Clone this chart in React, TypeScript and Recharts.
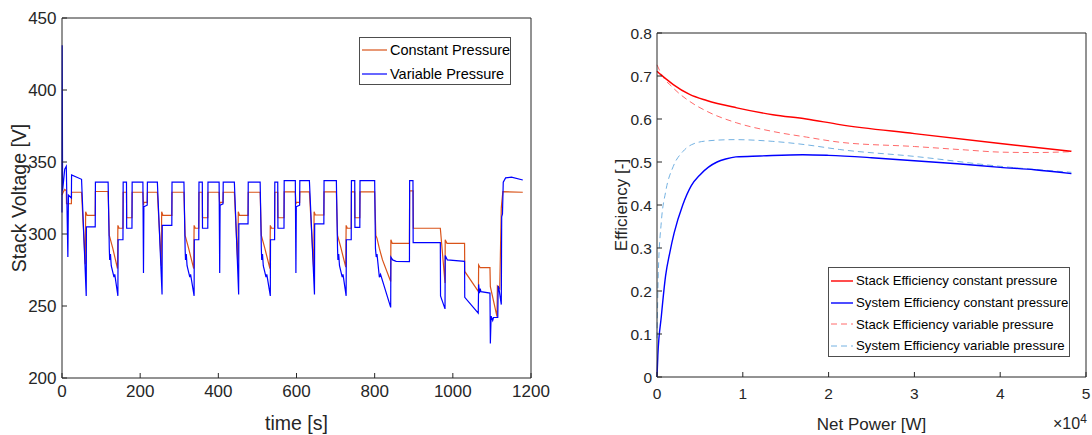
import { LineChart, Line, XAxis, YAxis, Legend } from "recharts";

const FONT = '"Liberation Sans", Arial, Helvetica, sans-serif';
const AXIS = "#262626";

// ---- left panel: stack voltage vs time ----
const cpTime = [0, 3, 7, 11, 11.5, 24, 24.5, 50, 59.5, 60.5, 64, 85, 85.5, 118, 121, 125, 130, 142, 143, 146, 156, 156.5, 165, 165.5, 179, 179.5, 207, 208.5, 209.5, 218, 218.5, 244, 254, 255, 258, 281, 281.5, 312, 315, 319, 324, 337, 338, 341, 350, 350.5, 359, 359.5, 373, 373.5, 402, 403.5, 404.5, 412, 412.5, 441, 450, 451, 454, 476, 476.5, 507, 510, 514, 519, 532, 533, 536, 544, 544.5, 552, 552.5, 568, 568.5, 597, 598.5, 599.5, 608, 608.5, 633, 644, 645, 648, 670, 670.5, 702, 705, 709, 714, 726, 727, 730, 740, 740.5, 749, 749.5, 762, 762.5, 800, 803, 806, 812, 820, 841, 841.5, 845, 889, 889.5, 898.5, 899, 968, 980, 980.5, 985, 1030, 1030.5, 1065.5, 1066, 1070, 1095, 1096, 1113, 1114, 1120, 1124, 1125, 1128, 1179];
const cpVolt = [327, 329, 331, 330, 321, 321, 329, 329, 279, 315.5, 313, 313, 329.5, 329.5, 299, 295, 290, 276, 306, 304, 304, 329, 329, 311.3, 311.3, 329, 329, 320, 322, 322, 329, 329, 278, 315.5, 313, 313, 329, 329, 299, 295, 290, 276, 306, 304, 304, 329, 329, 311.3, 311.3, 329, 329, 320, 322, 322, 329, 329, 278, 315.5, 313, 313, 329, 329, 299, 295, 290, 276, 306, 304, 304, 329, 329, 311.3, 311.3, 329.2, 329.2, 320.8, 322, 322, 329.2, 329.2, 275.5, 315.5, 313.2, 313.2, 329.2, 329.2, 299, 295, 290, 277, 306, 304, 304, 329.2, 329.2, 311.3, 311.3, 329.2, 329.2, 299, 297, 290, 282, 267, 296, 293.5, 293.5, 329.9, 329.9, 304, 304, 266, 296, 293.5, 293.5, 274, 260, 278.5, 276.6, 276.6, 263.4, 242.6, 263.9, 262, 318, 321.3, 329.4, 329];

const vpTime = [0, 0.5, 1.5, 7, 11, 15, 16.5, 24, 24.5, 50, 62, 62.5, 85, 85.5, 118, 121, 122, 124, 126, 133, 135, 143, 143.5, 156, 156.5, 165, 165.5, 179, 179.5, 207, 208.5, 209.5, 218, 218.5, 244, 256, 256.5, 281, 281.5, 312, 315, 316, 318, 320, 327, 329, 338, 338.5, 350, 350.5, 359, 359.5, 373, 373.5, 402, 403.5, 404.5, 412, 412.5, 441, 452, 452.5, 476, 476.5, 507, 510, 511, 513, 515, 522, 524, 533, 533.5, 544, 544.5, 552, 552.5, 568, 568.5, 597, 598.5, 599.5, 608, 608.5, 633, 646, 646.5, 670, 670.5, 702, 705, 706, 708, 710, 717, 719, 727, 727.5, 740, 740.5, 749, 749.5, 762, 762.5, 800, 802, 804, 806, 812, 815, 841, 841.5, 846, 855, 889, 889.5, 898, 898.5, 968, 968.5, 980, 980.5, 986, 1030, 1030.5, 1065, 1066, 1068, 1070, 1072, 1095, 1096, 1098, 1102, 1104, 1115, 1116, 1118, 1124, 1125, 1127, 1129, 1135, 1150, 1179];
const vpVolt = [315, 431, 330, 345, 347, 284, 327, 325, 341, 338, 257, 305, 305, 336, 336, 290, 282, 286, 278, 270, 272, 257, 296, 296, 336, 336, 304, 304, 336, 336, 273, 319, 320, 336, 336, 258, 306, 306, 336, 336, 290, 282, 286, 278, 270, 272, 257, 296, 296, 336, 336, 304, 304, 336, 336, 273, 320, 321, 336, 336, 258, 307, 307, 336, 336, 290, 282, 286, 278, 270, 272, 257, 296, 296, 336, 336, 304, 304, 337, 337, 273, 319, 320, 337, 337, 258, 307, 307, 337, 337, 290, 282, 286, 278, 270, 272, 257, 296, 296, 337, 337, 304.6, 304.6, 337, 337, 290, 284, 286, 270, 272, 249, 284, 282, 281, 280.8, 337, 337, 294, 294, 257, 248, 285, 282, 281, 256, 245, 265, 259, 262, 260, 259, 224, 243, 240, 242, 242, 264, 262, 251, 312, 314, 336, 339, 339.5, 337.5];

const timeTicks = [0, 200, 400, 600, 800, 1000, 1200];
const voltTicks = [200, 250, 300, 350, 400, 450];

// ---- right panel: efficiency vs net power ----
const stackCpPower = [0, 500, 1000, 1900, 3800, 5800, 9300, 13500, 17400, 21300, 30000, 40000, 48300];
const stackCpEff = [0.711, 0.702, 0.694, 0.68, 0.657, 0.643, 0.626, 0.61, 0.6, 0.587, 0.566, 0.543, 0.525];

const sysCpPower = [0, 100, 500, 1000, 1500, 2000, 3000, 4000, 5000, 6000, 7000, 8000, 9200, 12000, 17000, 20000, 25000, 30000, 35000, 40000, 44000, 48300];
const sysCpEff = [0, 0.05, 0.14, 0.235, 0.29, 0.335, 0.4, 0.445, 0.47, 0.488, 0.5, 0.507, 0.512, 0.514, 0.517, 0.5155, 0.51, 0.503, 0.496, 0.4876, 0.482, 0.473];

const stackVpPower = [0, 500, 1900, 3800, 5800, 9300, 13500, 17400, 21300, 30000, 36000, 40000, 44000, 48300];
const stackVpEff = [0.726, 0.705, 0.672, 0.641, 0.618, 0.591, 0.571, 0.558, 0.546, 0.536, 0.528, 0.523, 0.522, 0.524];

const sysVpPower = [0, 150, 500, 1000, 1900, 3000, 4000, 5800, 9000, 13500, 17400, 21300, 30000, 40000, 48300];
const sysVpEff = [0.09, 0.24, 0.36, 0.43, 0.49, 0.524, 0.54, 0.549, 0.552, 0.548, 0.54, 0.529, 0.513, 0.49, 0.476];

const powerTicks = [0, 10000, 20000, 30000, 40000, 50000];
const effTicks = [0, 0.1, 0.2, 0.3, 0.4, 0.5, 0.6, 0.7, 0.8];

const toPoints = (xs: number[], ys: number[]) => xs.map((x, i) => ({ x, y: ys[i] }));

type LegendItem = { label: string; color: string; dash?: string; width: number };

function BoxLegend({ items, fontSize, rowH, padTop, sample, width, height }: any) {
  return (
    <div
      style={{
        width,
        height,
        boxSizing: "border-box",
        border: "1px solid #4d4d4d",
        background: "#fff",
        paddingTop: padTop,
        fontFamily: FONT,
        fontSize,
        color: "#000",
      }}
    >
      {items.map((it: LegendItem) => (
        <div key={it.label} style={{ height: rowH, display: "flex", alignItems: "center", whiteSpace: "nowrap" }}>
          <svg width={sample + 4} height={4} style={{ flex: "none" }}>
            <line x1={2} x2={sample + 2} y1={2} y2={2} stroke={it.color} strokeWidth={it.width} strokeDasharray={it.dash} />
          </svg>
          <span style={{ marginLeft: 1 }}>{it.label}</span>
        </div>
      ))}
    </div>
  );
}

const leftLegend: LegendItem[] = [
  { label: "Constant Pressure", color: "#D95319", width: 1.2 },
  { label: "Variable Pressure", color: "#0000FF", width: 1.2 },
];

const rightLegend: LegendItem[] = [
  { label: "Stack Efficiency constant pressure", color: "#FF0000", width: 1.4 },
  { label: "System Efficiency constant pressure", color: "#0000FF", width: 1.4 },
  { label: "Stack Efficiency variable pressure", color: "#FF6A6A", width: 1, dash: "6 4" },
  { label: "System Efficiency variable pressure", color: "#74B2E2", width: 1, dash: "6 4" },
];

export default function App() {
  const cpData = toPoints(cpTime, cpVolt);
  const vpData = toPoints(vpTime, vpVolt);
  const tickStyle = (size: number) => ({ fill: AXIS, fontSize: size, fontFamily: FONT });

  return (
    <div style={{ position: "absolute", left: 0, top: 0, width: 1092, height: 435, background: "#fff" }}>
      <div style={{ position: "absolute", left: 0, top: 0 }}>
        <LineChart width={575} height={435} margin={{ top: 17, right: 43, left: 0, bottom: 0 }}>
          <XAxis
            dataKey="x"
            type="number"
            domain={[0, 1200]}
            ticks={timeTicks}
            height={57}
            stroke={AXIS}
            tickSize={-5}
            tickMargin={12}
            tick={tickStyle(17)}
            label={{ value: "time [s]", position: "insideBottom", offset: 5, fill: AXIS, fontSize: 19.5, fontFamily: FONT }}
          />
          <XAxis xAxisId="top" orientation="top" type="number" domain={[0, 1200]} ticks={timeTicks} height={1} stroke={AXIS} tickSize={-5} tickFormatter={() => ""} />
          <YAxis
            type="number"
            domain={[200, 450]}
            ticks={voltTicks}
            width={62}
            stroke={AXIS}
            tickSize={-5}
            tickMargin={10.5}
            tick={tickStyle(17)}
            label={{ value: "Stack Voltage [V]", angle: -90, position: "insideLeft", offset: 19, fill: AXIS, fontSize: 19.5, fontFamily: FONT, style: { textAnchor: "middle" } }}
          />
          <YAxis yAxisId="right" orientation="right" type="number" domain={[200, 450]} ticks={voltTicks} width={1} stroke={AXIS} tickSize={-5} tickFormatter={() => ""} />
          <Line data={cpData} dataKey="y" type="linear" dot={false} stroke="#D95319" strokeWidth={1.2} isAnimationActive={false} />
          <Line data={vpData} dataKey="y" type="linear" dot={false} stroke="#0000FF" strokeWidth={1.2} isAnimationActive={false} />
          <Legend
            verticalAlign="middle"
            align="center"
            layout="horizontal"
            wrapperStyle={{ left: 359, top: 37, width: 152, height: 48 }}
            content={() => <BoxLegend items={leftLegend} fontSize={14.5} rowH={24} padTop={0} sample={25} width={152} height={48} />}
          />
        </LineChart>
      </div>

      <div style={{ position: "absolute", left: 590, top: 0 }}>
        <LineChart width={502} height={435} margin={{ top: 32, right: 5, left: 0, bottom: 0 }}>
          <XAxis
            dataKey="x"
            type="number"
            domain={[0, 50000]}
            ticks={powerTicks}
            height={58}
            stroke={AXIS}
            tickSize={-5}
            tickMargin={16}
            tick={tickStyle(15.5)}
            tickFormatter={(v: number) => String(v / 10000)}
            label={{ value: "Net Power [W]", position: "insideBottom", offset: 5, fill: AXIS, fontSize: 17, fontFamily: FONT }}
          />
          <XAxis xAxisId="top" orientation="top" type="number" domain={[0, 50000]} ticks={powerTicks} height={1} stroke={AXIS} tickSize={-5} tickFormatter={() => ""} />
          <YAxis
            type="number"
            domain={[0, 0.8]}
            ticks={effTicks}
            width={67}
            stroke={AXIS}
            tickSize={-5}
            tickMargin={10}
            tick={tickStyle(15.5)}
            tickFormatter={(v: number) => (v === 0 ? "0" : v.toFixed(1))}
            label={{ value: "Efficiency [-]", angle: -90, position: "insideLeft", offset: 31, fill: AXIS, fontSize: 17, fontFamily: FONT, style: { textAnchor: "middle" } }}
          />
          <YAxis yAxisId="right" orientation="right" type="number" domain={[0, 0.8]} ticks={effTicks} width={1} stroke={AXIS} tickSize={-5} tickFormatter={() => ""} />
          <Line data={toPoints(sysVpPower, sysVpEff)} dataKey="y" type="monotone" dot={false} stroke="#74B2E2" strokeWidth={1} strokeDasharray="6 4" isAnimationActive={false} />
          <Line data={toPoints(stackVpPower, stackVpEff)} dataKey="y" type="monotone" dot={false} stroke="#FF6A6A" strokeWidth={1} strokeDasharray="6 4" isAnimationActive={false} />
          <Line data={toPoints(sysCpPower, sysCpEff)} dataKey="y" type="monotone" dot={false} stroke="#0000FF" strokeWidth={1.4} isAnimationActive={false} />
          <Line data={toPoints(stackCpPower, stackCpEff)} dataKey="y" type="monotone" dot={false} stroke="#FF0000" strokeWidth={1.4} isAnimationActive={false} />
          <Legend
            verticalAlign="middle"
            align="center"
            layout="horizontal"
            wrapperStyle={{ left: 238, top: 267, width: 242, height: 90 }}
            content={() => <BoxLegend items={rightLegend} fontSize={13.2} rowH={21.7} padTop={2} sample={22} width={242} height={90} />}
          />
        </LineChart>
        <div style={{ position: "absolute", left: 463, top: 412, fontFamily: FONT, fontSize: 16, color: AXIS, whiteSpace: "nowrap" }}>
          ×10<sup style={{ fontSize: 12, verticalAlign: "6px" }}>4</sup>
        </div>
      </div>
    </div>
  );
}
